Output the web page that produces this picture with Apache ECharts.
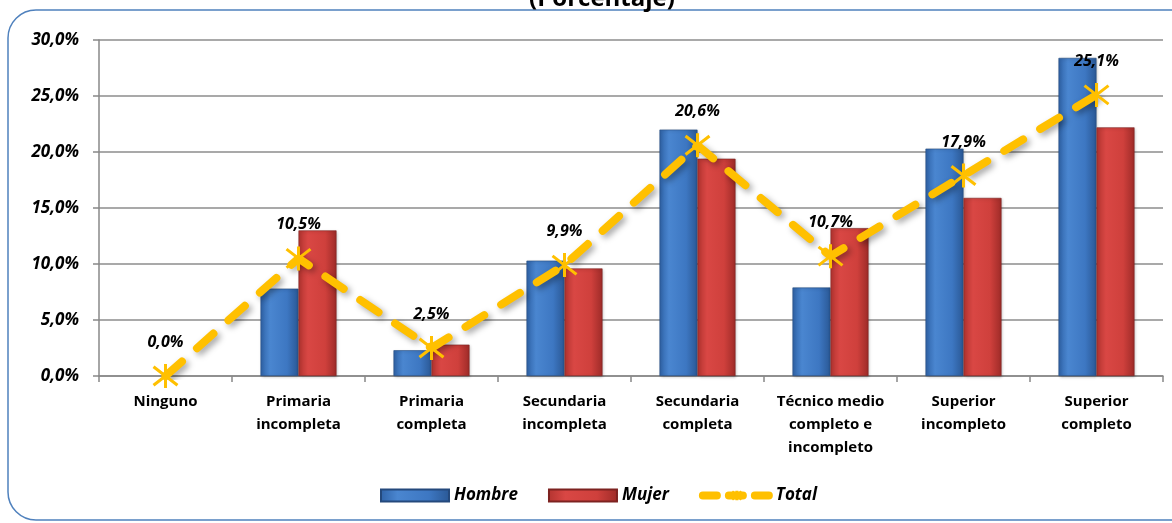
<!DOCTYPE html>
<html>
<head>
<meta charset="utf-8">
<script src="https://cdn.jsdelivr.net/npm/echarts@6/dist/echarts.min.js"></script>
<style>
  html, body { margin: 0; padding: 0; background: #fff; }
  #myChart { width: 1172px; height: 523px; }
</style>
</head>
<body>
<div id="myChart"></div>
<script>
// datos (porcentaje)
const categories = [
  'Ninguno',
  'Primaria\nincompleta',
  'Primaria\ncompleta',
  'Secundaria\nincompleta',
  'Secundaria\ncompleta',
  'Técnico medio\ncompleto e\nincompleto',
  'Superior\nincompleto',
  'Superior\ncompleto'
]
const hombre = [0, 7.8, 2.3, 10.3, 22.0, 7.9, 20.3, 28.4]
const mujer = [0, 13.0, 2.8, 9.6, 19.4, 13.2, 15.9, 22.2]
const total = [0, 10.5, 2.5, 9.9, 20.6, 10.7, 17.9, 25.1]
const yTicks = [0, 5, 10, 15, 20, 25, 30]

const fmt = v => Number(v).toFixed(1).replace('.', ',') + '%'
// las barras en cero no se dibujan
const noZero = arr => arr.map(v => (v === 0 ? '-' : v))
const font = '"Open Sans", sans-serif'
const gold = '#FFC000'

const blueBar = new echarts.graphic.LinearGradient(0, 0, 1, 0, [
  { offset: 0, color: '#2f63a8' },
  { offset: 0.25, color: '#4a86d0' },
  { offset: 0.7, color: '#3d77c2' },
  { offset: 1, color: '#2a5895' }
])
const redBar = new echarts.graphic.LinearGradient(0, 0, 1, 0, [
  { offset: 0, color: '#b33430' },
  { offset: 0.25, color: '#d94744' },
  { offset: 0.7, color: '#cf403c' },
  { offset: 1, color: '#9e2b28' }
])

const option = {
  textStyle: { fontFamily: font },
  title: {
    text: '(Porcentaje)',
    left: 597,
    textAlign: 'center',
    top: -18,
    textStyle: { fontFamily: font, fontSize: 24, fontWeight: 'bold', color: '#000' }
  },
  graphic: [{
    type: 'rect',
    shape: { x: 8, y: 10, width: 1200, height: 510, r: 28 },
    style: { fill: 'none', stroke: '#4f81bd', lineWidth: 1.5 },
    z: -1
  }],
  legend: {
    left: 375,
    top: 482,
    itemWidth: 68,
    itemHeight: 12,
    itemGap: 30,
    textStyle: { fontFamily: font, fontSize: 17, fontWeight: 'bold', fontStyle: 'italic', color: '#000' },
    data: [
      { name: 'Hombre', icon: 'rect' },
      { name: 'Mujer', icon: 'rect' },
      {
        name: 'Total',
        itemStyle: { color: gold, borderColor: gold, borderWidth: 3 },
        lineStyle: { color: gold, width: 8, type: [14, 12], cap: 'round' }
      }
    ]
  },
  grid: { left: 99, right: 9, top: 40, bottom: 147 },
  xAxis: {
    type: 'category',
    data: categories,
    axisLine: { lineStyle: { color: '#888', width: 1.5 } },
    axisTick: { show: true, length: 6, lineStyle: { color: '#888', width: 1.5 } },
    axisLabel: {
      interval: 0,
      margin: 14,
      fontFamily: font,
      fontSize: 15,
      fontWeight: 'bold',
      lineHeight: 23,
      color: '#000'
    }
  },
  yAxis: {
    type: 'value',
    min: yTicks[0],
    max: yTicks[yTicks.length - 1],
    interval: 5,
    axisLine: { show: true, lineStyle: { color: '#888', width: 1.5 } },
    axisTick: { show: true, length: 6, lineStyle: { color: '#888', width: 1.5 } },
    splitLine: { lineStyle: { color: '#8c8c8c', width: 1.5 } },
    axisLabel: {
      margin: 20,
      formatter: fmt,
      fontFamily: font,
      fontSize: 17,
      fontWeight: 'bold',
      fontStyle: 'italic',
      color: '#000'
    }
  },
  series: [
    {
      name: 'Hombre',
      type: 'bar',
      data: noZero(hombre),
      barWidth: 38,
      barGap: '0%',
      itemStyle: {
        color: blueBar,
        borderColor: '#24497c',
        borderWidth: 0.6,
        shadowColor: 'rgba(0,0,0,0.25)',
        shadowBlur: 3,
        shadowOffsetX: 1,
        shadowOffsetY: 1
      }
    },
    {
      name: 'Mujer',
      type: 'bar',
      data: noZero(mujer),
      barWidth: 38,
      itemStyle: {
        color: redBar,
        borderColor: '#7d2220',
        borderWidth: 0.6,
        shadowColor: 'rgba(0,0,0,0.25)',
        shadowBlur: 3,
        shadowOffsetX: 1,
        shadowOffsetY: 1
      }
    },
    {
      name: 'Total',
      type: 'line',
      data: total,
      z: 5,
      symbol: 'path://M0,0L20,20M20,0L0,20M10,-3L10,23',
      symbolSize: 24,
      itemStyle: { color: gold, borderColor: gold, borderWidth: 3 },
      lineStyle: {
        color: gold,
        width: 8,
        type: [22, 20],
        cap: 'round',
        shadowColor: 'rgba(0,0,0,0.35)',
        shadowBlur: 6,
        shadowOffsetX: 3,
        shadowOffsetY: 3
      },
      label: {
        show: true,
        position: 'top',
        distance: 12,
        formatter: p => fmt(p.value),
        fontFamily: font,
        fontSize: 16,
        fontWeight: 'bold',
        fontStyle: 'italic',
        color: '#000'
      }
    }
  ]
}

const myChart = echarts.init(document.getElementById('myChart'))
myChart.setOption(option)
</script>
</body>
</html>
